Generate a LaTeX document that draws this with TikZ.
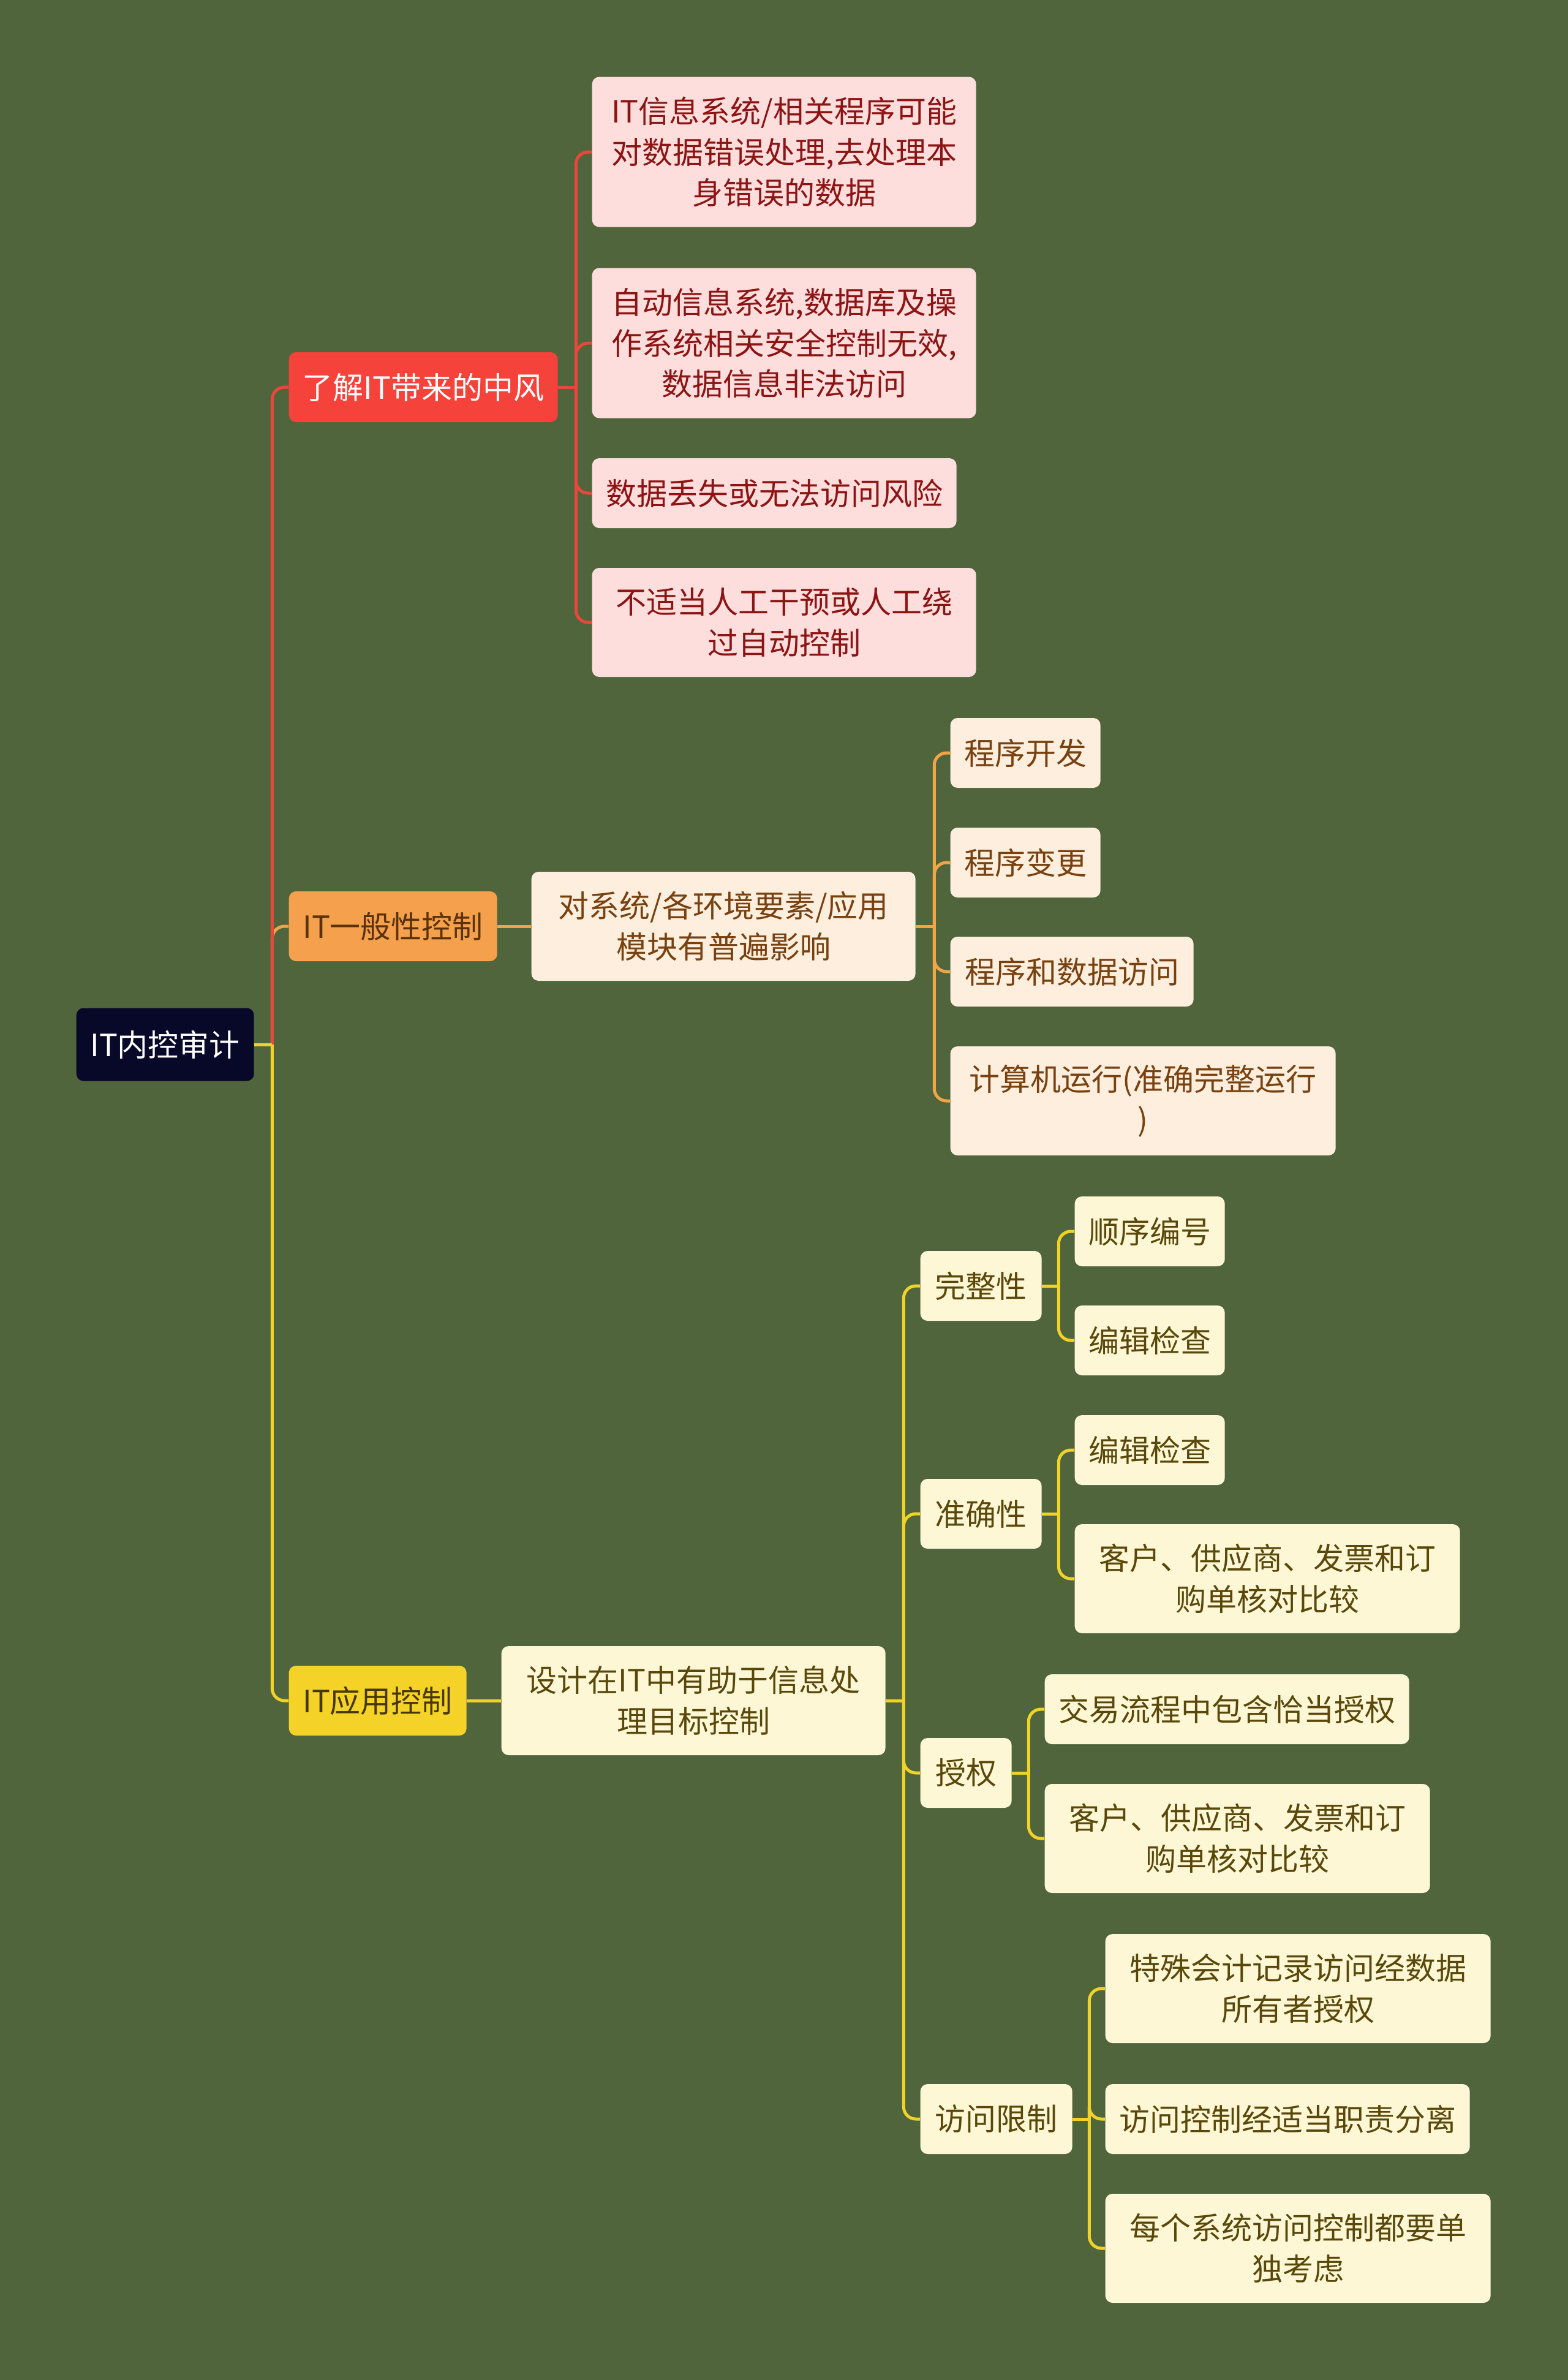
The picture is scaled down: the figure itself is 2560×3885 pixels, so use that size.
\documentclass[tikz,border=0pt]{standalone}
\usepackage{fontspec}
\setmainfont{Noto Sans CJK SC}
\usetikzlibrary{calc}
\definecolor{bgc}{RGB}{80,101,60}
\definecolor{rootc}{RGB}{8,8,40}
\definecolor{redc}{RGB}{245,66,58}
\definecolor{orangec}{RGB}{244,160,76}
\definecolor{yellowc}{RGB}{244,210,40}
\definecolor{pinkc}{RGB}{253,222,220}
\definecolor{creamo}{RGB}{253,238,222}
\definecolor{creamy}{RGB}{253,247,214}
\definecolor{redtxt}{RGB}{140,20,20}
\definecolor{brtxt}{RGB}{120,65,15}
\definecolor{ytxt}{RGB}{90,72,10}
\definecolor{otxt}{RGB}{90,50,10}
\definecolor{y1txt}{RGB}{70,55,0}
\definecolor{redline}{RGB}{232,72,60}
\definecolor{orline}{RGB}{240,165,70}
\definecolor{yline}{RGB}{240,210,40}
\newcommand\mmbranch[4]{%
  \draw[conn,#1] (#2.east) -- ++(#4,0);
  \draw[conn,#1] ($(#2.east)+(#4,0)$) |- (#3.west);
}
\begin{document}
\begin{tikzpicture}[x=0.3pt,y=-0.3pt,
  base/.style={rounded corners=3.5pt, inner sep=0pt, align=center,
    font=\fontsize{15}{20}\selectfont, anchor=west},
  rootbox/.style={base, fill=rootc, text=white},
  redbox/.style={base, fill=redc, text=white},
  orbox/.style={base, fill=orangec, text=otxt},
  yebox/.style={base, fill=yellowc, text=y1txt},
  pinkbox/.style={base, fill=pinkc, text=redtxt},
  obox/.style={base, fill=creamo, text=brtxt},
  ybox/.style={base, fill=creamy, text=ytxt},
  h1/.style={minimum height=34.2pt},
  h2/.style={minimum height=53.4pt},
  h3/.style={minimum height=73.5pt},
  conn/.style={line width=1.5pt, rounded corners=6pt}]
\fill[bgc] (0,0) rectangle (2560,3885);
\useasboundingbox (0,0) rectangle (2560,3885);

% root and level 1
\node[rootbox, minimum width=87pt, minimum height=35.7pt] (root) at (124,1705) {IT内控审计};
\node[redbox, h1, minimum width=131.7pt] (r1) at (471,632) {了解IT带来的中风};
\node[orbox, h1, minimum width=102pt] (o1) at (471,1512) {IT一般性控制};
\node[yebox, h1, minimum width=87pt] (y1) at (471,2776) {IT应用控制};

% red branch
\node[pinkbox, h3, minimum width=188.1pt] (r11) at (966,248) {IT信息系统/相关程序可能\\对数据错误处理,去处理本\\身错误的数据};
\node[pinkbox, h3, minimum width=188.1pt] (r12) at (966,560) {自动信息系统,数据库及操\\作系统相关安全控制无效,\\数据信息非法访问};
\node[pinkbox, h1, minimum width=178.5pt] (r13) at (966,805) {数据丢失或无法访问风险};
\node[pinkbox, h2, minimum width=188.1pt] (r14) at (966,1016) {不适当人工干预或人工绕\\过自动控制};

% orange branch
\node[obox, h2, minimum width=188.1pt] (o2) at (867,1512) {对系统/各环境要素/应用\\模块有普遍影响};
\node[obox, h1, minimum width=73.5pt] (o21) at (1551,1229) {程序开发};
\node[obox, h1, minimum width=73.5pt] (o22) at (1551,1408) {程序变更};
\node[obox, h1, minimum width=119.1pt] (o23) at (1551,1586) {程序和数据访问};
\node[obox, h2, minimum width=188.7pt] (o24) at (1551,1797) {计算机运行(准确完整运行\\)};

% yellow branch
\node[ybox, h2, minimum width=188.1pt] (y2) at (818,2776) {设计在IT中有助于信息处\\理目标控制};
\node[ybox, h1, minimum width=59.4pt] (y31) at (1502,2099) {完整性};
\node[ybox, h1, minimum width=59.4pt] (y32) at (1502,2471) {准确性};
\node[ybox, h1, minimum width=44.7pt] (y33) at (1502,2894) {授权};
\node[ybox, h1, minimum width=74.4pt] (y34) at (1502,3459) {访问限制};
\node[ybox, h1, minimum width=73.5pt] (y311) at (1754,2010) {顺序编号};
\node[ybox, h1, minimum width=73.5pt] (y312) at (1754,2188) {编辑检查};
\node[ybox, h1, minimum width=73.5pt] (y321) at (1754,2367) {编辑检查};
\node[ybox, h2, minimum width=188.7pt] (y322) at (1754,2577) {客户、供应商、发票和订\\购单核对比较};
\node[ybox, h1, minimum width=178.5pt] (y331) at (1705,2790) {交易流程中包含恰当授权};
\node[ybox, h2, minimum width=188.7pt] (y332) at (1705,3001) {客户、供应商、发票和订\\购单核对比较};
\node[ybox, h2, minimum width=188.7pt] (y341) at (1804,3246) {特殊会计记录访问经数据\\所有者授权};
\node[ybox, h1, minimum width=178.5pt] (y342) at (1804,3459) {访问控制经适当职责分离};
\node[ybox, h2, minimum width=188.7pt] (y343) at (1804,3670) {每个系统访问控制都要单\\独考虑};

% connectors
\mmbranch{orline}{root}{o1}{29}
\mmbranch{redline}{root}{r1}{29}
\mmbranch{yline}{root}{y1}{29}

\mmbranch{redline}{r1}{r11}{29}
\mmbranch{redline}{r1}{r12}{29}
\mmbranch{redline}{r1}{r13}{29}
\mmbranch{redline}{r1}{r14}{29}

\draw[conn,orline] (o1.east) -- (o2.west);
\mmbranch{orline}{o2}{o21}{30}
\mmbranch{orline}{o2}{o22}{30}
\mmbranch{orline}{o2}{o23}{30}
\mmbranch{orline}{o2}{o24}{30}

\draw[conn,yline] (y1.east) -- (y2.west);
\mmbranch{yline}{y2}{y31}{29}
\mmbranch{yline}{y2}{y32}{29}
\mmbranch{yline}{y2}{y33}{29}
\mmbranch{yline}{y2}{y34}{29}
\mmbranch{yline}{y31}{y311}{27}
\mmbranch{yline}{y31}{y312}{27}
\mmbranch{yline}{y32}{y321}{27}
\mmbranch{yline}{y32}{y322}{27}
\mmbranch{yline}{y33}{y331}{27}
\mmbranch{yline}{y33}{y332}{27}
\mmbranch{yline}{y34}{y341}{27}
\mmbranch{yline}{y34}{y342}{27}
\mmbranch{yline}{y34}{y343}{27}
\end{tikzpicture}
\end{document}
